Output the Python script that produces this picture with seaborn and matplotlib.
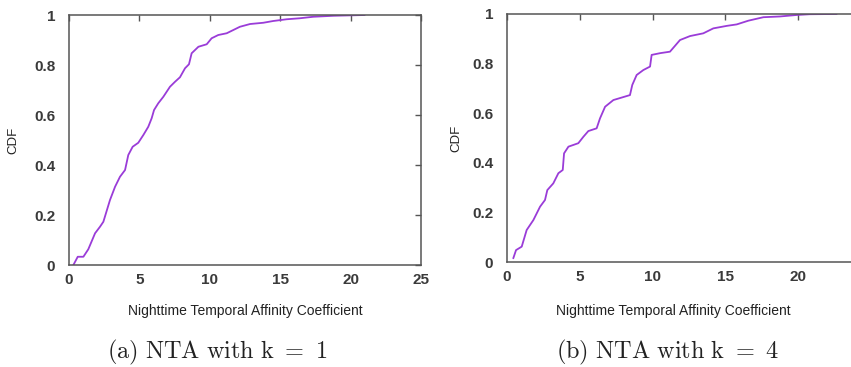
import matplotlib
matplotlib.use("Agg")
import matplotlib.pyplot as plt
import seaborn as sns
import pandas as pd

# ---- data ----
nta_k1_x = [0.31, 0.62, 1.02, 1.37, 1.85, 2.2, 2.44, 2.91, 3.27, 3.62, 3.98, 4.21, 4.52,
            4.92, 5.28, 5.63, 5.87, 6.04, 6.34, 6.70, 7.17, 7.53, 7.88, 8.24, 8.52, 8.71,
            9.19, 9.78, 10.13, 10.6, 11.2, 11.67, 12.14, 12.86, 13.8, 14.5, 15.46, 16.4,
            17.35, 18.8, 21.0]
nta_k1_y = [0.0, 0.033, 0.033, 0.063, 0.127, 0.153, 0.173, 0.26, 0.313, 0.353, 0.38, 0.44,
            0.473, 0.489, 0.52, 0.553, 0.587, 0.62, 0.647, 0.673, 0.713, 0.733, 0.751, 0.787,
            0.803, 0.847, 0.873, 0.883, 0.907, 0.92, 0.927, 0.94, 0.953, 0.964, 0.969, 0.976,
            0.983, 0.987, 0.993, 0.997, 1.0]

nta_k4_x = [0.43, 0.62, 1.01, 1.35, 1.81, 2.27, 2.61, 2.77, 3.18, 3.53, 3.83, 3.92, 4.22,
            4.9, 5.25, 5.59, 6.16, 6.39, 6.74, 7.31, 7.88, 8.45, 8.61, 8.91, 9.37, 9.83,
            9.94, 10.52, 11.2, 11.89, 12.58, 13.49, 14.18, 15.1, 15.79, 16.59, 17.62, 18.76,
            19.91, 20.8, 22.66]
nta_k4_y = [0.015, 0.048, 0.062, 0.129, 0.169, 0.223, 0.25, 0.29, 0.317, 0.358, 0.371, 0.438,
            0.465, 0.479, 0.505, 0.528, 0.539, 0.579, 0.626, 0.653, 0.663, 0.673, 0.714, 0.754,
            0.774, 0.788, 0.835, 0.842, 0.848, 0.895, 0.911, 0.922, 0.942, 0.952, 0.958, 0.973,
            0.987, 0.99, 0.996, 0.999, 1.0]

x_ticks_left = [0, 5, 10, 15, 20, 25]
x_ticks_right = [0, 5, 10, 15, 20]
y_ticks = [0, 0.2, 0.4, 0.6, 0.8, 1.0]
y_tick_labels = ["0", "0.2", "0.4", "0.6", "0.8", "1"]
x_label = "Nighttime Temporal Affinity Coefficient"
y_label = "CDF"
captions = [r"$\mathrm{(a)\ NTA\ with\ k\ =\ 1}$", r"$\mathrm{(b)\ NTA\ with\ k\ =\ 4}$"]

# ---- style ----
sns.set_theme(style="white")
plt.rcParams["font.family"] = ["Liberation Sans", "DejaVu Sans"]
plt.rcParams["mathtext.fontset"] = "cm"

line_color = "#9a3cd8"
spine_color = "#555555"
tick_color = "#3a3a3a"

fig = plt.figure(figsize=(8.51, 3.67), dpi=100)
ax1 = fig.add_axes([0.0811, 0.2779, 0.4136, 0.6812])
ax2 = fig.add_axes([0.5958, 0.2861, 0.4274, 0.6758])

panels = [(ax1, nta_k1_x, nta_k1_y, x_ticks_left), (ax2, nta_k4_x, nta_k4_y, x_ticks_right)]
for ax, xs, ys, xt in panels:
    df = pd.DataFrame({"x": xs, "y": ys})
    sns.lineplot(data=df, x="x", y="y", ax=ax, color=line_color, linewidth=1.3,
                 sort=False, estimator=None)
    ax.set_xlim(0, 25)
    ax.set_ylim(0, 1)
    ax.set_xticks(xt)
    ax.set_xticklabels([str(t) for t in xt])
    ax.set_yticks(y_ticks)
    ax.set_yticklabels(y_tick_labels)
    for s in ax.spines.values():
        s.set_visible(True)
        s.set_color(spine_color)
        s.set_linewidth(1.1)
    ax.tick_params(axis="both", direction="in", length=4, width=1.0, color=spine_color,
                   top=True, right=True, labelsize=11, labelcolor=tick_color)
    ax.tick_params(axis="y", pad=10)
    ax.tick_params(axis="x", pad=6)
    for lab in ax.get_xticklabels() + ax.get_yticklabels():
        lab.set_fontweight("bold")
    ax.set_xlabel(x_label, fontsize=10, color="#222222")
    ax.set_ylabel(y_label, fontsize=9.5, color="#222222")
    ax.grid(False)

# label positions (figure coords -> axes coords)
def place_labels(ax, xlab_fig_x, xlab_fig_y, ylab_fig_x):
    inv = ax.transAxes.inverted()
    fx, fy = fig.transFigure.transform((xlab_fig_x, xlab_fig_y))
    ax_x, ax_y = inv.transform((fx, fy))
    ax.xaxis.set_label_coords(ax_x, ax_y)
    fx2, fy2 = fig.transFigure.transform((ylab_fig_x, 0.5))
    ay_x, _ = inv.transform((fx2, fy2))
    ax.yaxis.set_label_coords(ay_x, 0.5)

place_labels(ax1, 245 / 851, 1 - 311 / 367, 13 / 851)
place_labels(ax2, 673 / 851, 1 - 311 / 367, 456 / 851)
ax1.xaxis.label.set_va("center")
ax2.xaxis.label.set_va("center")
ax1.yaxis.label.set_va("center")
ax2.yaxis.label.set_va("center")

fig.text(217 / 851, 1 - 352 / 367, captions[0], ha="center", va="center", fontsize=17.5, color="#222222")
fig.text(667 / 851, 1 - 352 / 367, captions[1], ha="center", va="center", fontsize=17.5, color="#222222")

fig.savefig("out.png", dpi=100)
